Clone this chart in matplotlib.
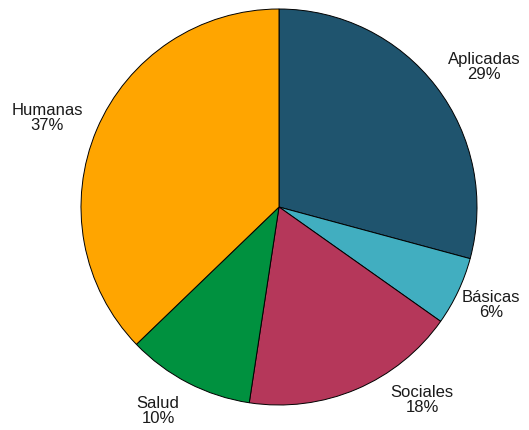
import matplotlib.pyplot as plt

# Share of each area (percent), clockwise from the top
areas = ['Aplicadas', 'Básicas', 'Sociales', 'Salud', 'Humanas']
shares = [29.2, 5.6, 17.6, 10.4, 37.2]
pct_labels = ['29%', '6%', '18%', '10%', '37%']
colors = ['#1f546e', '#41aec0', '#b5375a', '#00913f', '#ffa500']

# label anchor points in pixels (x, y from top)
label_pos = [(484, 67), (491, 305), (422, 400), (158, 411), (47, 118)]

W, H = 529, 431
fig = plt.figure(figsize=(W / 100, H / 100), dpi=100)
ax = fig.add_axes([0, 0, 1, 1])

cx, cy, r = 279, H - 208, 198
ax.pie(shares, colors=colors, startangle=90, counterclock=False,
       center=(cx, cy), radius=r,
       wedgeprops=dict(edgecolor='black', linewidth=0.7))

for name, pct, (x, y) in zip(areas, pct_labels, label_pos):
    ax.text(x, H - y, f'{name}\n{pct}', ha='center', va='center',
            fontsize=12, family='Liberation Sans', color='#1a1a1a',
            linespacing=0.95)

ax.set_xlim(0, W)
ax.set_ylim(0, H)
ax.set_aspect('equal')
ax.axis('off')

fig.savefig('out.png', dpi=100, facecolor='white')
